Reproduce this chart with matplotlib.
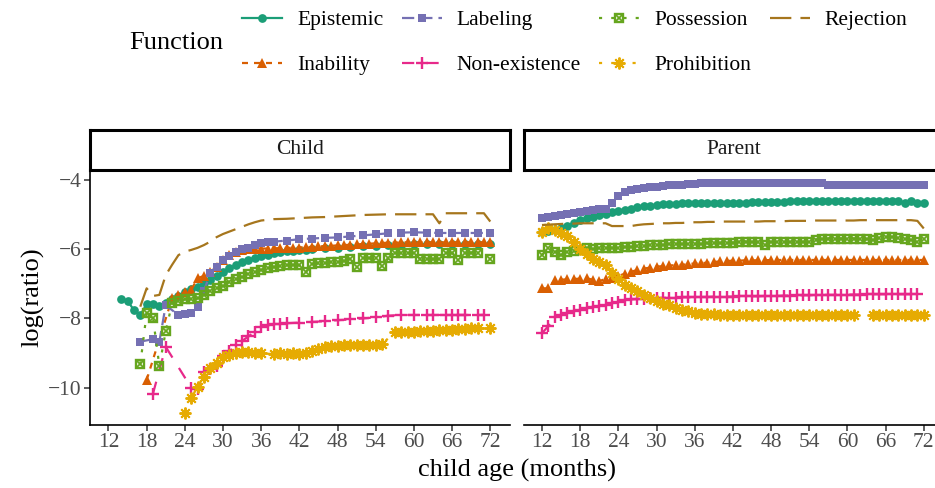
import numpy as np
import matplotlib
matplotlib.use("Agg")
import matplotlib.pyplot as plt
from matplotlib.lines import Line2D
from matplotlib.legend_handler import HandlerTuple

plt.rcParams['font.family'] = ['Liberation Serif', 'DejaVu Serif']

nan = np.nan
functions = ['Epistemic', 'Inability', 'Labeling', 'Non-existence',
             'Possession', 'Prohibition', 'Rejection']
colors = {'Epistemic': '#1B9E77', 'Inability': '#D95F02', 'Labeling': '#7570B3',
          'Non-existence': '#E7298A', 'Possession': '#66A61E',
          'Prohibition': '#E6AB02', 'Rejection': '#A6761D'}

# ---- Child panel data (age in months, log ratio) ----
child_epistemic_age = [14, 15, 16, 17, 18, 19, 20, 21, 22, 23, 24, 25, 26, 27, 28, 29, 30, 31, 32, 33,
                       34, 35, 36, 37, 38, 39, 40, 41, 42, 43, 44, 46, 48, 50, 52, 54, 56, 58, 60, 62,
                       64, 66, 68, 70, 72]
child_epistemic = [-7.44, -7.49, -7.76, -7.91, -7.58, -7.58, -7.63, -7.55, -7.45, -7.35, -7.23, -7.15,
                   -7.08, -6.98, -6.89, -6.77, -6.65, -6.55, -6.46, -6.38, -6.31, -6.25, -6.2, -6.16,
                   -6.12, -6.09, -6.06, -6.04, -6.03, -6.02, -6.0, -5.97, -5.95, -5.93, -5.91, -5.9,
                   -5.88, -5.87, -5.86, -5.86, -5.85, -5.85, -5.84, -5.84, -5.84]

child_inability_age = [18, 22, 23, 24, 25, 26, 27, 28, 29, 30, 31, 32, 33, 34, 35, 36, 37, 38, 39, 40,
                       41, 42, 43, 44, 45, 46, 47, 48, 49, 50, 51, 52, 53, 54, 55, 56, 57, 58, 59, 60,
                       61, 62, 63, 64, 65, 66, 67, 68, 69, 70, 71, 72]
child_inability = [-9.78, -7.42, -7.32, -7.25, -7.18, -6.84, -6.77, -6.65, -6.5, -6.31, -6.18, -6.07,
                   -6.03, -6.0, -5.99, -5.98, -5.98, -5.97, -5.97, -5.96, -5.96, -5.95, -5.94, -5.93,
                   -5.92, -5.91, -5.9, -5.89, -5.88, -5.87, -5.86, -5.85, -5.84, -5.83, -5.82, -5.81,
                   -5.81, -5.8, -5.8, -5.8, -5.8, -5.8, -5.8, -5.8, -5.8, -5.8, -5.8, -5.8, -5.8,
                   -5.8, -5.8, -5.8]

child_labeling_age = [17, 19, 20, 21, 23, 24, 25, 26, 27, 28, 29, 30, 31, 32, 33, 34, 35, 36, 37, 38,
                      40, 42, 44, 46, 48, 50, 52, 54, 56, 58, 60, 62, 64, 66, 68, 70, 72]
child_labeling = [-8.67, -8.6, -8.67, -7.62, -7.9, -7.88, -7.85, -7.68, -7.2, -6.7, -6.5, -6.31, -6.2,
                  -6.07, -6.0, -5.95, -5.88, -5.83, -5.8, -5.78, -5.75, -5.71, -5.69, -5.67, -5.66,
                  -5.63, -5.6, -5.57, -5.54, -5.52, -5.51, -5.52, -5.53, -5.53, -5.53, -5.53, -5.53]

child_nonexist_age = [19, 21, 25, 26, 27, 28, 29, 30, 31, 32, 33, 34, 35, 36, 37, 38, 39, 40, 42, 44,
                      46, 48, 50, 52, 54, 56, 58, 60, 62, 63, 65, 66, 67, 68, 70, 71]
child_nonexist = [-10.17, -8.82, -10.0, -10.05, -9.55, -9.45, -9.38, -9.1, -8.95, -8.78, -8.65, -8.52,
                  -8.38, -8.25, -8.2, -8.17, -8.15, -8.14, -8.12, -8.1, -8.08, -8.05, -8.03, -8.0,
                  -7.97, -7.92, -7.9, -7.9, -7.9, -7.9, -7.9, -7.9, -7.9, -7.9, -7.9, -7.9]

child_possession_age = [17, 18, 19, 20, 21, 22, 23, 24, 25, 26, 27, 28, 29, 30, 31, 32, 33, 34, 35, 36,
                        37, 38, 39, 40, 41, 42, 43, 44, 45, 46, 47, 48, 49, 50, 51, 52, 53, 54, 55, 56,
                        57, 58, 59, 60, 61, 62, 63, 64, 65, 66, 67, 68, 69, 70, 71, 72]
child_possession = [-9.33, -7.85, -7.98, -9.38, -8.37, -7.56, -7.49, -7.45, -7.43, -7.42, -7.33, -7.22,
                    -7.13, -7.06, -6.94, -6.86, -6.79, -6.72, -6.65, -6.6, -6.55, -6.52, -6.49, -6.46,
                    -6.46, -6.46, -6.66, -6.43, -6.41, -6.39, -6.38, -6.36, -6.33, -6.29, -6.5, -6.26,
                    -6.26, -6.26, -6.49, -6.26, -6.12, -6.12, -6.12, -6.12, -6.29, -6.29, -6.29, -6.29,
                    -6.1, -6.1, -6.31, -6.1, -6.1, -6.1, nan, -6.29]

child_prohibition_age = [24, 25, 26, 27, 28, 29, 30, 31, 32, 33, 34, 35, 36, 38, 39, 40, 41, 42, 43, 44,
                         45, 46, 47, 48, 49, 50, 51, 52, 53, 54, 55, 57, 58, 59, 60, 61, 62, 63, 64, 65,
                         66, 67, 68, 69, 70, 72]
child_prohibition = [-10.74, -10.31, -9.97, -9.68, -9.44, -9.28, -9.12, -9.05, -9.01, -8.98, -8.96,
                     -8.99, -9.01, -9.03, -9.01, -9.02, -9.01, -9.02, -9.01, -8.95, -8.88, -8.82, -8.8,
                     -8.79, -8.77, -8.77, -8.77, -8.77, -8.77, -8.77, -8.75, -8.38, -8.38, -8.38, -8.38,
                     -8.36, -8.36, -8.35, -8.34, -8.33, -8.32, -8.3, -8.3, -8.29, -8.29, -8.29]

child_rejection_age = [17, 18, 19, 20, 21, 22, 23, 24, 25, 26, 27, 28, 29, 30, 31, 32, 33, 34, 35, 36,
                       38, 40, 42, 44, 46, 48, 50, 52, 54, 56, 58, 60, 62, 63, 64, 65, 66, 68, 70, 71, 72]
child_rejection = [-7.66, -7.13, -7.35, -7.32, -6.75, -6.45, -6.17, -6.07, -6.02, -5.96, -5.88, -5.78,
                   -5.65, -5.56, -5.49, -5.42, -5.35, -5.28, -5.22, -5.17, -5.13, -5.12, -5.1, -5.08,
                   -5.07, -5.05, -5.03, -5.01, -5.0, -4.99, -4.99, -4.99, -4.99, -4.99, -5.25, -4.96,
                   -4.96, -4.96, -4.96, -4.96, -5.2]

# ---- Parent panel data ----
parent_age = list(range(12, 73))
parent_epistemic = [-5.5, -5.48, -5.45, -5.4, -5.33, -5.24, -5.16, -5.1, -5.06, -5.01, -4.97, -4.93,
                    -4.9, -4.87, -4.83, -4.79, -4.76, -4.74, -4.72, -4.7, -4.69, -4.68, -4.67, -4.67,
                    -4.66, -4.66, -4.66, -4.66, -4.66, -4.65, -4.65, -4.65, -4.65, -4.64, -4.64, -4.64,
                    -4.64, -4.63, -4.63, -4.62, -4.62, -4.62, -4.61, -4.61, -4.61, -4.61, -4.61, -4.61,
                    -4.61, -4.61, -4.61, -4.61, -4.61, -4.61, -4.61, -4.61, -4.61, -4.67, -4.6, -4.65,
                    -4.65]
parent_inability = [-7.13, -7.13, -6.89, -6.88, -6.87, -6.86, -6.85, -6.84, -6.88, -6.92, -6.86, -6.82,
                    -6.77, -6.71, -6.65, -6.6, -6.56, -6.53, -6.5, -6.49, -6.47, -6.46, -6.45, -6.43,
                    -6.41, -6.4, -6.39, -6.37, -6.35, -6.34, -6.33, -6.33, -6.32, -6.32, -6.32, -6.32,
                    -6.31, -6.31, -6.31, -6.31, -6.31, -6.31, -6.31, -6.31, -6.31, -6.31, -6.31, -6.31,
                    -6.31, -6.31, -6.31, -6.31, -6.31, -6.31, -6.31, -6.31, -6.31, -6.31, -6.31, -6.31,
                    -6.31]
parent_labeling = [-5.11, -5.08, -5.04, -5.0, -4.97, -4.94, -4.92, -4.89, -4.86, -4.85, -4.85, -4.67,
                   -4.45, -4.35, -4.29, -4.26, -4.23, -4.21, -4.19, -4.17, -4.15, -4.14, -4.13, -4.12,
                   -4.11, -4.1, -4.1, -4.1, -4.1, -4.1, -4.1, -4.1, -4.1, -4.1, -4.1, -4.1, -4.1, -4.1,
                   -4.1, -4.1, -4.1, -4.1, -4.1, -4.1, -4.1, -4.14, -4.14, -4.14, -4.14, -4.14, -4.14,
                   -4.14, -4.14, -4.14, -4.14, -4.14, -4.14, -4.14, -4.14, -4.14, -4.14]
parent_nonexist = [-8.43, -8.22, -7.95, -7.9, -7.84, -7.79, -7.75, -7.71, -7.66, -7.63, -7.61, -7.56,
                   -7.52, -7.48, -7.45, -7.44, -7.43, -7.42, -7.41, -7.41, -7.4, -7.4, -7.39, -7.39,
                   -7.38, -7.38, -7.38, -7.37, -7.37, -7.37, -7.37, -7.36, -7.36, -7.36, -7.36, -7.35,
                   -7.35, -7.35, -7.34, -7.34, -7.33, -7.33, -7.33, -7.32, -7.32, -7.32, -7.32, -7.31,
                   -7.31, -7.31, -7.31, -7.3, -7.3, -7.3, -7.3, -7.3, -7.3, -7.3, -7.3, -7.3, nan]
parent_possession = [-6.17, -5.97, -6.07, -6.17, -6.07, -6.04, -6.02, -5.97, -5.98, -5.97, -5.97, -5.96,
                     -5.95, -5.94, -5.93, -5.91, -5.9, -5.88, -5.87, -5.87, -5.86, -5.86, -5.85, -5.85,
                     -5.84, -5.84, -5.83, -5.83, -5.82, -5.82, -5.81, -5.8, -5.78, -5.79, -5.8, -5.88,
                     -5.8, -5.8, -5.79, -5.79, -5.78, -5.78, -5.78, -5.72, -5.69, -5.69, -5.69, -5.69,
                     -5.69, -5.69, -5.69, -5.71, -5.73, -5.68, -5.64, -5.66, -5.68, -5.71, -5.72, -5.78,
                     -5.71]
parent_prohibition = [-5.49, -5.4, -5.45, -5.52, -5.62, -5.78, -6.0, -6.15, -6.27, -6.38, -6.46, -6.7,
                      -6.87, -7.02, -7.12, -7.22, -7.32, -7.42, -7.5, -7.57, -7.62, -7.7, -7.75, -7.79,
                      -7.83, -7.86, -7.87, -7.88, -7.89, -7.89, -7.9, -7.9, -7.9, -7.9, -7.9, -7.9, -7.9,
                      -7.9, -7.9, -7.9, -7.9, -7.9, -7.9, -7.9, -7.9, -7.9, -7.9, -7.9, -7.9, -7.9, nan,
                      nan, -7.9, -7.9, -7.9, -7.9, -7.9, -7.9, -7.9, -7.9, -7.9]
parent_rejection = [-5.3, -5.29, -5.28, -5.27, -5.26, -5.26, -5.25, -5.25, -5.25, -5.25, -5.25, -5.33,
                    -5.33, -5.33, -5.33, -5.3, -5.28, -5.27, -5.26, -5.25, -5.25, -5.24, -5.24, -5.23,
                    -5.22, -5.22, -5.21, -5.21, -5.2, -5.2, -5.2, -5.2, -5.2, -5.2, -5.2, -5.19, -5.19,
                    -5.19, -5.19, -5.18, -5.18, -5.18, -5.18, -5.17, -5.17, -5.17, -5.17, -5.17, -5.17,
                    -5.17, -5.16, -5.16, -5.16, -5.16, -5.16, -5.16, -5.16, -5.16, -5.16, -5.18, -5.4]

child = {
    'Epistemic': (child_epistemic_age, child_epistemic),
    'Inability': (child_inability_age, child_inability),
    'Labeling': (child_labeling_age, child_labeling),
    'Non-existence': (child_nonexist_age, child_nonexist),
    'Possession': (child_possession_age, child_possession),
    'Prohibition': (child_prohibition_age, child_prohibition),
    'Rejection': (child_rejection_age, child_rejection),
}
parent = {
    'Epistemic': (parent_age, parent_epistemic),
    'Inability': (parent_age, parent_inability),
    'Labeling': (parent_age, parent_labeling),
    'Non-existence': (parent_age, parent_nonexist),
    'Possession': (parent_age, parent_possession),
    'Prohibition': (parent_age, parent_prohibition),
    'Rejection': (parent_age, parent_rejection),
}

# ggplot-like linetypes / shapes
dashes = {'Epistemic': None, 'Inability': (2.7, 2.7), 'Labeling': (5.5, 2.7),
          'Non-existence': (5.5, 5.5), 'Possession': (1.4, 4.1),
          'Prohibition': (1.4, 4.1, 5.5, 4.1), 'Rejection': (9.6, 4.1)}
markers = {'Epistemic': ('o', 6.3, 0), 'Inability': ('^', 7, 0), 'Labeling': ('s', 6.3, 0),
           'Non-existence': ('+', 9, 1.7), 'Possession': ('s', 6.2, 1.7),
           'Prohibition': ((8, 2, 0), 8.5, 1.4), 'Rejection': (None, 0, 0)}
LW = 1.6
FS_SMALL = 15.5
FS_BIG = 19


def line_kw(f):
    m, ms, mew = markers[f]
    kw = dict(color=colors[f], lw=LW, marker=m, markersize=ms, markeredgewidth=mew)
    if f == 'Possession':
        kw['markerfacecolor'] = 'none'
    if dashes[f] is not None:
        kw['dashes'] = dashes[f]
    return kw


def draw(ax, data):
    for f in functions:
        x, y = data[f]
        ax.plot(x, y, **line_kw(f))
        if f == 'Possession':
            ax.plot(x, y, ls='none', marker='x', markersize=4, markeredgewidth=1.3,
                    color=colors[f])


W, H = 935, 488
fig = plt.figure(figsize=(W / 100, H / 100), dpi=100)

panel_top, panel_bot = 170, 425
xlim = (9.1, 75.1)
ylim = (-11.08, -3.71)

ax1 = fig.add_axes([90 / W, 1 - panel_bot / H, 420 / W, (panel_bot - panel_top) / H])
ax2 = fig.add_axes([523.5 / W, 1 - panel_bot / H, 420 / W, (panel_bot - panel_top) / H])
draw(ax1, child)
draw(ax2, parent)

for ax in (ax1, ax2):
    ax.set_xlim(*xlim)
    ax.set_ylim(*ylim)
    ax.set_xticks(range(12, 73, 6))
    ax.tick_params(axis='x', length=4, width=1.1, color='#333333', labelsize=FS_SMALL,
                   labelcolor='#4D4D4D', pad=2)
    ax.spines['top'].set_visible(False)
    ax.spines['right'].set_visible(False)
    ax.spines['bottom'].set_linewidth(1.2)
    ax.spines['left'].set_linewidth(1.2)

ax1.set_yticks([-10, -8, -6, -4])
ax1.set_yticklabels(['\u221210', '\u22128', '\u22126', '\u22124'])
ax1.tick_params(axis='y', length=4, width=1.1, color='#333333', labelsize=FS_SMALL,
                labelcolor='#4D4D4D', pad=2)
ax2.spines['left'].set_visible(False)
ax2.set_yticks([])

# facet strips
for left, label in ((90, 'Child'), (523.5, 'Parent')):
    sax = fig.add_axes([left / W, 1 - panel_top / H, 420 / W, 40 / H])
    sax.set_xticks([])
    sax.set_yticks([])
    for sp in sax.spines.values():
        sp.set_linewidth(2.2)
        sp.set_color('black')
    sax.text(0.5, 0.5, label, transform=sax.transAxes,
             ha='center', va='center', fontsize=FS_SMALL, color='#1A1A1A')

fig.text(517 / W, 1 - 470 / H, 'child age (months)', ha='center', va='center', fontsize=FS_BIG)
fig.text(33 / W, 1 - 297 / H, 'log(ratio)', ha='center', va='center', rotation=90,
         fontsize=FS_BIG)

# legend
handles = []
for f in functions:
    kw = line_kw(f)
    h = Line2D([], [], **kw)
    if f == 'Possession':
        h = (h, Line2D([], [], ls='none', marker='x', markersize=4, markeredgewidth=1.3,
                       color=colors[f]))
    handles.append(h)

fig.legend(handles, functions, ncol=4, loc='upper left', bbox_to_anchor=(242 / W, 1 - 10 / H),
           frameon=False, fontsize=FS_SMALL, handlelength=1.86, handletextpad=0.7,
           columnspacing=0.85, labelspacing=1.17, borderpad=0, borderaxespad=0,
           handler_map={tuple: HandlerTuple(ndivide=1)}, numpoints=1)
fig.text(129 / W, 1 - 43 / H, 'Function', ha='left', va='center', fontsize=FS_BIG)

fig.savefig('out.png', dpi=100)
